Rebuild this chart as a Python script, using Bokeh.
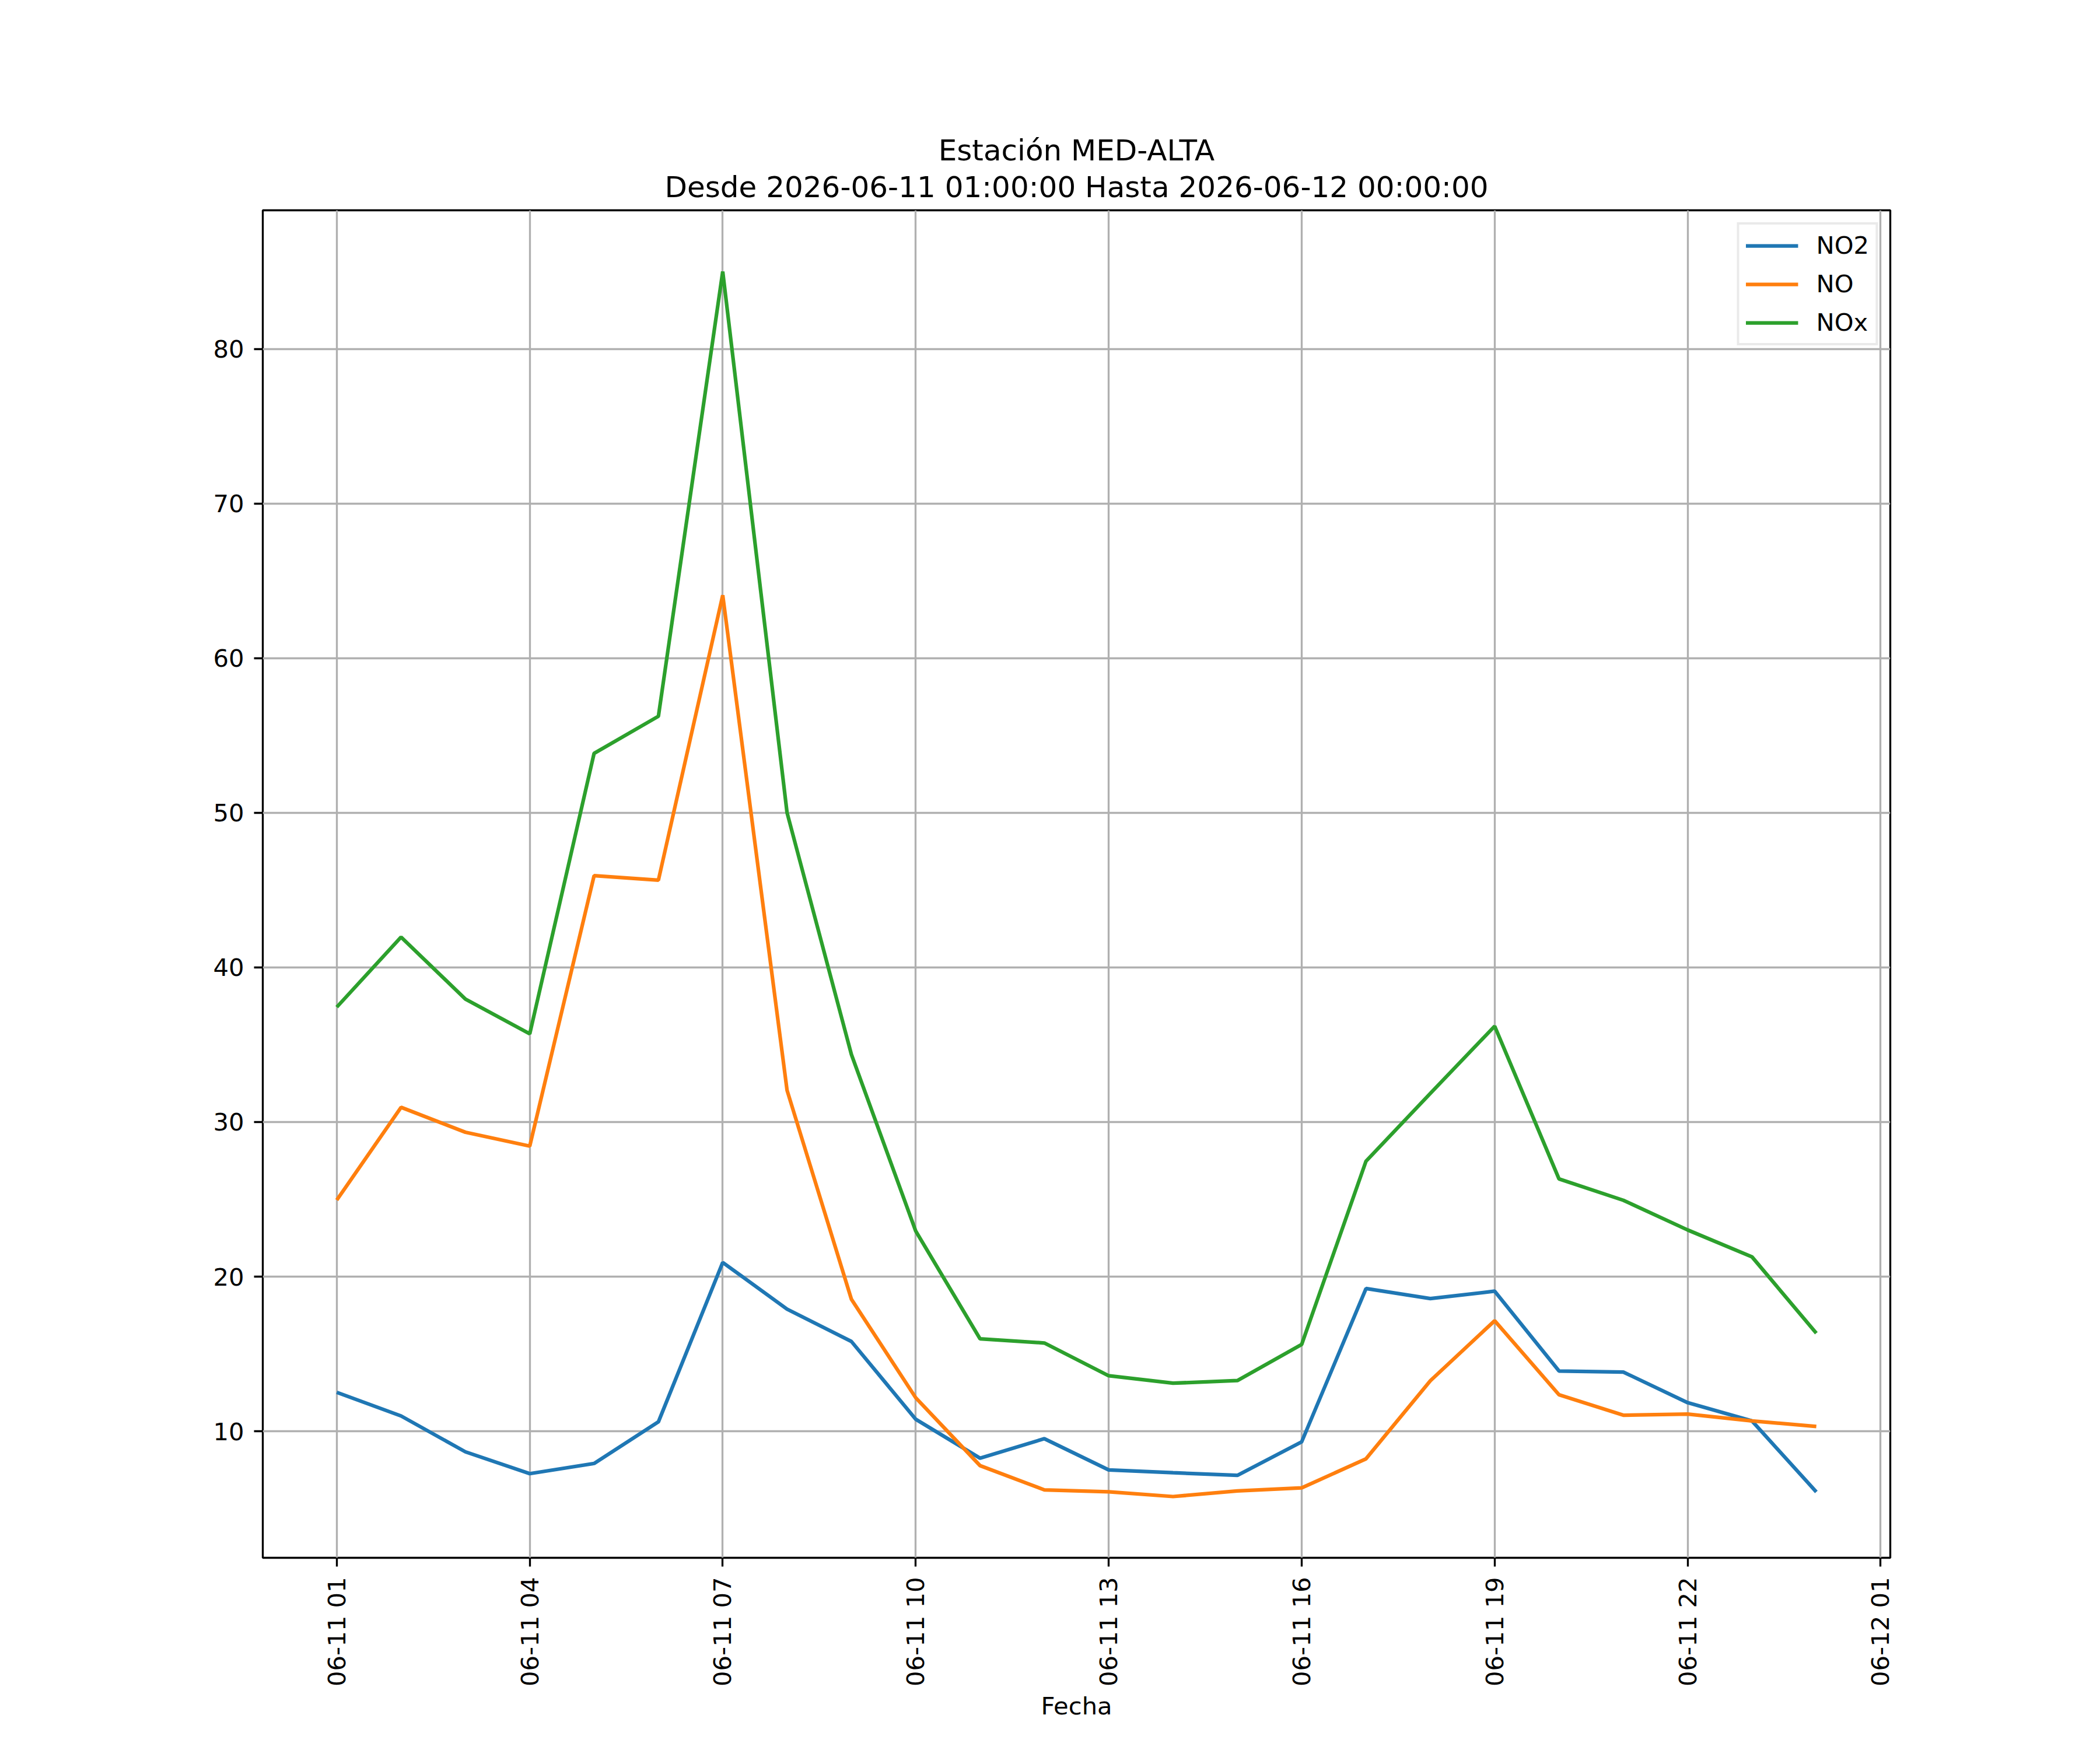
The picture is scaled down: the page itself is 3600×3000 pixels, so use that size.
import pandas as pd
from bokeh.plotting import figure
from bokeh.models import (Range1d, FixedTicker, DatetimeTickFormatter, Title,
                          Legend, LegendItem, ColumnDataSource)
from bokeh.embed import file_html
from bokeh.resources import INLINE

# ---------------- data ----------------
times = ["2026-06-11 01:00", "2026-06-11 02:00", "2026-06-11 03:00", "2026-06-11 04:00",
         "2026-06-11 05:00", "2026-06-11 06:00", "2026-06-11 07:00", "2026-06-11 08:00",
         "2026-06-11 09:00", "2026-06-11 10:00", "2026-06-11 11:00", "2026-06-11 12:00",
         "2026-06-11 13:00", "2026-06-11 14:00", "2026-06-11 15:00", "2026-06-11 16:00",
         "2026-06-11 17:00", "2026-06-11 18:00", "2026-06-11 19:00", "2026-06-11 20:00",
         "2026-06-11 21:00", "2026-06-11 22:00", "2026-06-11 23:00", "2026-06-12 00:00"]
no2 = [12.52, 10.99, 8.67, 7.26, 7.92, 10.61, 20.92, 17.90, 15.81, 10.78, 8.26, 9.52,
       7.50, 7.32, 7.15, 9.32, 19.23, 18.58, 19.06, 13.90, 13.83, 11.85, 10.67, 6.08]
no = [24.95, 30.95, 29.34, 28.44, 45.93, 45.64, 64.07, 32.05, 18.54, 12.17, 7.78, 6.21,
      6.09, 5.78, 6.14, 6.34, 8.22, 13.27, 17.15, 12.36, 11.04, 11.11, 10.67, 10.31]
nox = [37.43, 41.96, 37.95, 35.70, 53.84, 56.24, 85.00, 50.00, 34.37, 22.95, 15.98, 15.71,
       13.59, 13.11, 13.28, 15.62, 27.47, 31.85, 36.20, 26.32, 24.94, 23.02, 21.28, 16.34]
series_names = ["NO2", "NO", "NOx"]
series_colors = ["#1f77b4", "#ff7f0e", "#2ca02c"]
x_ticks = ["2026-06-11 01:00", "2026-06-11 04:00", "2026-06-11 07:00", "2026-06-11 10:00",
           "2026-06-11 13:00", "2026-06-11 16:00", "2026-06-11 19:00", "2026-06-11 22:00",
           "2026-06-12 01:00"]
y_ticks = [10, 20, 30, 40, 50, 60, 70, 80]
title_line1 = "Estación MED-ALTA"
title_line2 = "Desde 2026-06-11 01:00:00 Hasta 2026-06-12 00:00:00"
x_label = "Fecha"

# ---------------- build ----------------
FONT = "DejaVu Sans"
t = pd.to_datetime(times)
src = ColumnDataSource(dict(t=t, NO2=no2, NO=no, NOx=nox))

def ms(ts):
    return pd.Timestamp(ts).value / 1e6

t0, t1 = ms(times[0]), ms(times[-1])
dx = (t1 - t0) * 0.05
allv = no2 + no + nox
ymin, ymax = min(allv), max(allv)
dy = (ymax - ymin) * 0.05

p = figure(width=3584, height=2984, x_axis_type="datetime",
           output_backend="svg", toolbar_location=None,
           x_range=Range1d(t0 - dx, t1 + dx), y_range=Range1d(ymin - dy, ymax + dy),
           min_border_left=450, min_border_right=344, min_border_top=360,
           min_border_bottom=314)
p.title = None
p.background_fill_color = "white"
p.border_fill_color = "white"
p.outline_line_color = "black"
p.outline_line_width = 3.33

renderers = []
for name, col in zip(series_names, series_colors):
    r = p.line("t", name, source=src, line_color=col, line_width=6.25)
    renderers.append(r)

# grid
for g in (p.xgrid, p.ygrid):
    g.grid_line_color = "#b0b0b0"
    g.grid_line_width = 3.33

# axes
p.xaxis.ticker = FixedTicker(ticks=[ms(s) for s in x_ticks])
fmt = "%m-%d %H"
p.xaxis.formatter = DatetimeTickFormatter(hours=fmt, hourmin=fmt, days=fmt, months=fmt,
                                          minutes=fmt, minsec=fmt, seconds=fmt,
                                          milliseconds=fmt, microseconds=fmt, years=fmt)
p.yaxis.ticker = FixedTicker(ticks=y_ticks)
p.xaxis.major_label_orientation = 1.5707963267948966
for ax in (p.xaxis, p.yaxis):
    ax.axis_line_color = None
    ax.major_tick_out = 15
    ax.major_tick_in = 0
    ax.major_tick_line_width = 3.33
    ax.major_tick_line_color = "black"
    ax.minor_tick_line_color = None
    ax.major_label_text_font = FONT
    ax.major_label_text_font_size = "41.7px"
    ax.major_label_text_color = "black"
p.yaxis.major_label_standoff = 17
p.xaxis.major_label_standoff = 18
p.xaxis.axis_label = x_label
p.xaxis.axis_label_text_font = FONT
p.xaxis.axis_label_text_font_size = "41.7px"
p.xaxis.axis_label_text_font_style = "normal"
p.xaxis.axis_label_text_color = "black"
p.xaxis.axis_label_standoff = 6

# titles (first added is nearest the plot)
p.add_layout(Title(text=title_line2, align="center", text_font=FONT,
                   text_font_size="50px", text_font_style="normal",
                   text_color="black", standoff=22), "above")
p.add_layout(Title(text=title_line1, align="center", text_font=FONT,
                   text_font_size="50px", text_font_style="normal",
                   text_color="black", standoff=-16), "above")

legend = Legend(items=[LegendItem(label=n, renderers=[r]) for n, r in zip(series_names, renderers)],
                location="top_right", margin=21, padding=11,
                glyph_width=90, glyph_height=44, label_height=44, label_standoff=31,
                spacing=17, label_text_font=FONT, label_text_font_size="41.7px",
                label_text_color="black",
                border_line_color="#d6d6d6", border_line_width=4,
                background_fill_color="white", background_fill_alpha=0.8)
p.add_layout(legend)

open("out.html", "w").write(file_html(p, INLINE))
